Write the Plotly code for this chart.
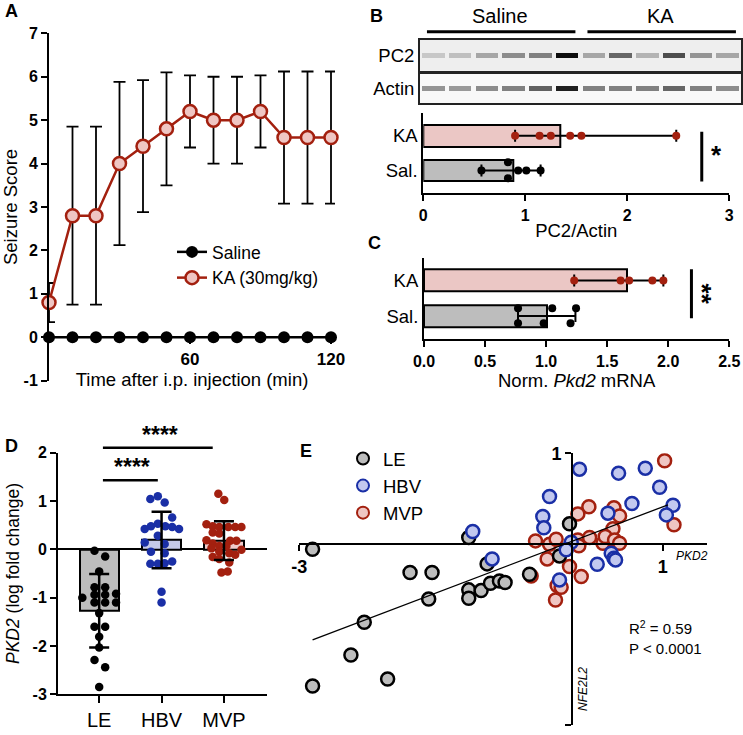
import plotly.graph_objects as go

W, H = 743, 735
FONT = "Arial, Liberation Sans, Helvetica, sans-serif"

# ============================================================
# DATA
# ============================================================
# A: seizure score after i.p. injection
TIME = [0, 10, 20, 30, 40, 50, 60, 70, 80, 90, 100, 110, 120]
SALINE_SCORE = [0, 0, 0, 0, 0, 0, 0, 0, 0, 0, 0, 0, 0]
KA_SCORE = [0.8, 2.8, 2.8, 4.0, 4.4, 4.8, 5.2, 5.0, 5.0, 5.2, 4.6, 4.6, 4.6]
KA_SD = [0.45, 2.05, 2.05, 1.88, 1.52, 1.3, 0.83, 1.0, 1.0, 0.83, 1.52, 1.52, 1.52]

# B: western blot (band darkness per lane, 0 = white, 1 = black)
LANES = [1, 2, 3, 4, 5, 6, 7, 8, 9, 10, 11, 12]
PC2_BAND = [0.22, 0.25, 0.35, 0.45, 0.5, 0.95, 0.35, 0.6, 0.3, 0.7, 0.42, 0.35]
ACTIN_BAND = [0.42, 0.4, 0.45, 0.5, 0.62, 0.88, 0.5, 0.5, 0.5, 0.6, 0.5, 0.45]
BLOT_GROUPS = ["Saline", "KA"]

# B: PC2/Actin quantification
ROWS = ["Sal.", "KA"]
PC2_MEAN = [0.88, 1.34]
PC2_LOW = [0.57, 0.90]
PC2_HIGH = [1.15, 2.48]
PC2_SAL_PTS = [0.57, 0.83, 0.83, 0.93, 1.01, 1.15]
PC2_SAL_OFF = [0, 0.24, -0.22, 0, 0, 0]
PC2_KA_PTS = [0.90, 1.14, 1.25, 1.44, 1.55, 2.48]

# C: Pkd2 mRNA
PKD2_MEAN = [1.005, 1.665]
PKD2_LOW = [0.77, 1.23]
PKD2_HIGH = [1.24, 1.96]
PKD2_SAL_PTS = [0.77, 0.77, 0.98, 1.05, 1.2, 1.245]
PKD2_SAL_OFF = [0.22, -0.2, -0.2, 0.22, -0.2, 0.22]
PKD2_KA_PTS = [1.23, 1.61, 1.68, 1.87, 1.96]

# D: PKD2 log fold change in human tissue
D_GROUPS = ["LE", "HBV", "MVP"]
D_MEAN = [-1.27, 0.195, 0.18]
D_SD = [0.76, 0.585, 0.40]
LE_D_Y = [-0.03, -0.15, -0.46, -0.785, -0.785, -1.0, -0.94, -0.94, -0.92, -1.1, -1.1, -1.1,
          -1.32, -1.6, -1.6, -1.81, -2.03, -2.29, -2.44, -2.85]
LE_D_DX = [-0.075, 0.096, 0, -0.075, 0.096, -0.27, -0.075, 0.096, 0.27, -0.075, 0.096, 0.27,
           0, -0.075, 0.096, 0, 0, -0.075, 0.096, 0]
HBV_D_Y = [1.04, 1.1, 0.97, 0.66, 0.48, 0.53, 0.48, 0.46, 0.42, 0.42, 0.28, 0.11, 0.14,
           -0.05, -0.08, -0.30, -0.30, -0.29, -0.25, -0.88, -1.1]
HBV_D_DX = [-0.18, -0.06, 0.05, 0.17, -0.17, -0.06, 0.06, 0.17, 0.28, -0.27, -0.06, 0.05, -0.27,
            -0.17, 0.05, -0.18, -0.06, 0.05, 0.17, 0, 0]
MVP_D_Y = [1.15, 1.02, 0.52, 0.48, 0.46, 0.46, 0.46, 0.46, 0.35, 0.33, 0.19, 0.12, 0.18, 0.18,
           0.07, 0.07, 0.02, -0.01, -0.05, -0.08, -0.11, -0.16, -0.2, -0.27, -0.48, -0.46]
MVP_D_DX = [-0.09, 0.005, -0.28, -0.18, -0.075, 0.07, 0.18, 0.28, -0.18, -0.075, -0.28, -0.18,
            0.1, 0.2, -0.075, 0.04, -0.2, 0.28, -0.075, 0.085, 0.18, -0.18, -0.075, 0.085, -0.04, 0.06]

# E: PKD2 vs NFE2L2
LE_E_X = [-2.854, -1.135, -0.933, -1.781, -1.539, -1.576, -1.135, -1.135, -0.999, -0.896,
          -0.797, -0.735, -0.466, -2.285, -2.432, -2.028, -2.854, -0.026, -0.136]
LE_E_Y = [-0.059, 0.07, -0.221, -0.317, -0.317, -0.608, -0.508, -0.6, -0.516, -0.435,
          -0.409, -0.427, -0.335, -0.866, -1.227, -1.492, -1.569, 0.221, -0.133]
HBV_E_X = [0.084, 0.514, 0.808, 0.966, 1.113, 1.04, -0.246, 0.661, 0.397, -0.32, -0.309,
           -1.091, -0.878, -0.007, -0.062, 0.279, 0.433, 0.463, 0.481, -0.136]
HBV_E_Y = [0.825, 0.781, 0.836, 0.626, 0.427, 0.32, 0.523, 0.446, 0.339, 0.302, 0.177,
           0.136, -0.166, 0.018, -0.066, -0.225, -0.103, -0.158, -0.177, -0.398]
MVP_E_X = [1.021, 1.124, 0.187, 0.066, 0.463, 0.525, 0.452, -0.4, -0.246, -0.173, 0.066,
           0.077, 0.195, 0.342, 0.367, 0.47, 0.525, -0.272, -0.026, 0.103, -0.448, -0.162,
           -0.118, -0.18]
MVP_E_Y = [0.917, 0.21, 0.409, 0.331, 0.398, 0.309, 0.166, 0.033, -0.004, 0.052, 0.044,
           -0.022, 0.07, 0.007, 0.081, 0.044, 0.007, -0.166, -0.25, -0.361, -0.354, -0.46,
           -0.479, -0.619]
FIT_X = [-2.854, 1.058]
FIT_SLOPE = 0.381
FIT_INTERCEPT = 0.028


# ============================================================
# HELPERS (pixel -> paper, for layout placement)
# ============================================================
def fx(p):
    return p / W


def fy(p):
    return 1 - p / H


def data_to_paper(v, dom, rng):
    return dom[0] + (v - rng[0]) / (rng[1] - rng[0]) * (dom[1] - dom[0])


def hyphen(vals):
    # tick labels with a plain hyphen like the original figure
    return [str(v) for v in vals]


BLACK = "#000000"
RED = "#a3200f"
PINK = "#efc6c3"
BLUE = "#1a2fa6"
LBLUE = "#c2c8ef"
GRAY = "#bdbdbd"

fig = go.Figure()

# ============================================================
# A
# ============================================================
fig.add_trace(go.Scatter(
    x=TIME, y=KA_SCORE, name="KA (30mg/kg)", mode="lines+markers",
    line=dict(color=RED, width=2.5),
    marker=dict(size=13, color=PINK, line=dict(color=RED, width=2.5)),
    error_y=dict(type="data", array=KA_SD, color=BLACK, thickness=1.8, width=6),
    cliponaxis=False, xaxis="x", yaxis="y", legend="legend", legendrank=2,
))
fig.add_trace(go.Scatter(
    x=TIME, y=SALINE_SCORE, name="Saline", mode="lines+markers",
    line=dict(color=BLACK, width=2.5),
    marker=dict(size=12, color=BLACK),
    cliponaxis=False, xaxis="x", yaxis="y", legend="legend", legendrank=1,
))

# ============================================================
# B: blot
# ============================================================
for band, ax in [(PC2_BAND, "3"), (ACTIN_BAND, "4")]:
    fig.add_trace(go.Bar(
        x=LANES, y=[0.17] * len(LANES), base=0.41, width=0.84,
        marker=dict(color=band, colorscale=[[0, "#ffffff"], [1, "#000000"]], cmin=0, cmax=1,
                    line=dict(width=0)),
        xaxis="x" + ax, yaxis="y" + ax, showlegend=False, hoverinfo="skip",
    ))

# B: bars
fig.add_trace(go.Bar(
    orientation="h", y=[0, 1], x=PC2_MEAN, width=0.62,
    marker=dict(color=[GRAY, "#ebc7c5"], line=dict(color=BLACK, width=2)),
    error_x=dict(type="data", symmetric=False,
                 array=[h - m for h, m in zip(PC2_HIGH, PC2_MEAN)],
                 arrayminus=[m - l for m, l in zip(PC2_MEAN, PC2_LOW)],
                 color=BLACK, thickness=2, width=6),
    xaxis="x5", yaxis="y5", showlegend=False,
))
fig.add_trace(go.Scatter(
    x=PC2_SAL_PTS, y=[0 + o for o in PC2_SAL_OFF], mode="markers",
    marker=dict(size=8, color=BLACK), xaxis="x5", yaxis="y5", showlegend=False,
))
fig.add_trace(go.Scatter(
    x=PC2_KA_PTS, y=[1] * len(PC2_KA_PTS), mode="markers",
    marker=dict(size=8, color=RED), xaxis="x5", yaxis="y5", showlegend=False,
    cliponaxis=False,
))

# C: bars
fig.add_trace(go.Bar(
    orientation="h", y=[0, 1], x=PKD2_MEAN, width=0.62,
    marker=dict(color=[GRAY, "#ebc7c5"], line=dict(color=BLACK, width=2)),
    error_x=dict(type="data", symmetric=False,
                 array=[h - m for h, m in zip(PKD2_HIGH, PKD2_MEAN)],
                 arrayminus=[m - l for m, l in zip(PKD2_MEAN, PKD2_LOW)],
                 color=BLACK, thickness=2, width=6),
    xaxis="x6", yaxis="y6", showlegend=False,
))
fig.add_trace(go.Scatter(
    x=PKD2_SAL_PTS, y=[0 + o for o in PKD2_SAL_OFF], mode="markers",
    marker=dict(size=8, color=BLACK), xaxis="x6", yaxis="y6", showlegend=False,
))
fig.add_trace(go.Scatter(
    x=PKD2_KA_PTS, y=[1] * len(PKD2_KA_PTS), mode="markers",
    marker=dict(size=8, color=RED), xaxis="x6", yaxis="y6", showlegend=False,
))

# ============================================================
# D
# ============================================================
fig.add_trace(go.Bar(
    x=[0, 1, 2], y=D_MEAN, width=0.63,
    marker=dict(color=[GRAY, "#c6cae8", "#efcaca"], line=dict(color=BLACK, width=2)),
    xaxis="x7", yaxis="y7", showlegend=False,
))
for i, (ys, dxs, col) in enumerate([(LE_D_Y, LE_D_DX, BLACK), (HBV_D_Y, HBV_D_DX, BLUE),
                                     (MVP_D_Y, MVP_D_DX, RED)]):
    fig.add_trace(go.Scatter(
        x=[i + d for d in dxs], y=ys, mode="markers",
        marker=dict(size=8.5, color=col), xaxis="x7", yaxis="y7", showlegend=False,
    ))
fig.add_trace(go.Scatter(
    x=[0, 1, 2], y=D_MEAN, mode="markers", marker=dict(size=1, color="rgba(0,0,0,0)"),
    error_y=dict(type="data", array=D_SD, color=BLACK, thickness=2.5, width=10),
    xaxis="x7", yaxis="y7", showlegend=False,
))

# ============================================================
# E
# ============================================================
fig.add_trace(go.Scatter(
    x=MVP_E_X, y=MVP_E_Y, name="MVP", mode="markers",
    marker=dict(size=13, color=PINK, line=dict(color=RED, width=2.5)),
    xaxis="x8", yaxis="y8", legend="legend2", legendrank=3,
))
fig.add_trace(go.Scatter(
    x=LE_E_X, y=LE_E_Y, name="LE", mode="markers",
    marker=dict(size=13, color=GRAY, line=dict(color=BLACK, width=2.5)),
    xaxis="x8", yaxis="y8", legend="legend2", legendrank=1,
))
fig.add_trace(go.Scatter(
    x=HBV_E_X, y=HBV_E_Y, name="HBV", mode="markers",
    marker=dict(size=13, color=LBLUE, line=dict(color=BLUE, width=2.5)),
    xaxis="x8", yaxis="y8", legend="legend2", legendrank=2,
))
fig.add_trace(go.Scatter(
    x=FIT_X, y=[FIT_SLOPE * x + FIT_INTERCEPT for x in FIT_X], mode="lines",
    line=dict(color=BLACK, width=1.3), xaxis="x8", yaxis="y8", showlegend=False,
))

# ============================================================
# LAYOUT
# ============================================================
axline = dict(showline=True, linecolor=BLACK, linewidth=2, showgrid=False, zeroline=False,
              automargin=False)
boxline = dict(showline=True, linecolor="#222222", linewidth=2, showgrid=False, zeroline=False,
               automargin=False, mirror=True, ticks="")
tickstyle = dict(ticks="outside", ticklen=6, tickwidth=2, tickcolor=BLACK)
bold16 = dict(size=16, weight="bold", color=BLACK)
TITLE = 18.5

A_YDOM = [fy(380.7), fy(33.3)]
D_YDOM = [fy(694.3), fy(452.7)]
D_YRNG = [-3, 2]
A_YTICKS = [-1, 0, 1, 2, 3, 4, 5, 6, 7]
D_YTICKS = [-3, -2, -1, 0, 1, 2]

fig.update_layout(
    template="none",
    width=W, height=H, margin=dict(l=0, r=0, t=0, b=0, autoexpand=False),
    paper_bgcolor="white", plot_bgcolor="white",
    font=dict(family=FONT, color=BLACK, size=15),
    barmode="overlay", bargap=0, hovermode=False,
    # A
    xaxis=dict(domain=[fx(49), fx(335)], range=[0, 121.7], anchor="free", position=fy(337.3),
               tickvals=[60, 120], tickfont=dict(size=17, weight="bold"),
               title=dict(text="Time after i.p. injection (min)", font=dict(size=TITLE),
                          standoff=4), **tickstyle, **axline),
    yaxis=dict(domain=A_YDOM, range=[-1, 7], anchor="x", tickvals=A_YTICKS,
               ticktext=hyphen(A_YTICKS), tickfont=bold16,
               title=dict(text="Seizure Score", font=dict(size=TITLE), standoff=8),
               **tickstyle, **axline),
    # B blot
    xaxis3=dict(domain=[fx(420), fx(741)], range=[0.5, 12.5], anchor="y3",
                showticklabels=False, **boxline),
    yaxis3=dict(domain=[fy(71), fy(40)], range=[0, 1], anchor="x3",
                tickvals=[0.5], ticktext=["PC2"], tickfont=dict(size=TITLE), **boxline),
    xaxis4=dict(domain=[fx(420), fx(741)], range=[0.5, 12.5], anchor="y4",
                showticklabels=False, **boxline),
    yaxis4=dict(domain=[fy(103), fy(74)], range=[0, 1], anchor="x4",
                tickvals=[0.5], ticktext=["Actin"], tickfont=dict(size=TITLE), **boxline),
    # B quantification
    xaxis5=dict(domain=[fx(423.3), fx(729.3)], range=[0, 3], anchor="y5", tickvals=[0, 1, 2, 3],
                tickfont=bold16, title=dict(text="PC2/Actin", font=dict(size=TITLE), standoff=2),
                **tickstyle, **axline),
    yaxis5=dict(domain=[fy(193.3), fy(113)], range=[-0.65, 1.65], anchor="x5", tickvals=[0, 1],
                ticktext=ROWS, ticks="", tickfont=dict(size=TITLE), **axline),
    # C
    xaxis6=dict(domain=[fx(424), fx(729.3)], range=[0, 2.5], anchor="y6",
                tickvals=[0, 0.5, 1, 1.5, 2, 2.5], tickformat=".1f", tickfont=bold16,
                title=dict(text="Norm. <i>Pkd2</i> mRNA", font=dict(size=TITLE), standoff=6),
                **tickstyle, **axline),
    yaxis6=dict(domain=[fy(339.3), fy(258.3)], range=[-0.65, 1.62], anchor="x6", tickvals=[0, 1],
                ticktext=ROWS, ticks="", tickfont=dict(size=TITLE), **axline),
    # D
    xaxis7=dict(domain=[fx(58), fx(267)], range=[-0.66, 2.69], anchor="y7", tickvals=[0, 1, 2],
                ticktext=D_GROUPS, ticks="outside", ticklen=7, tickwidth=2, tickcolor=BLACK,
                tickfont=dict(size=20), **axline),
    yaxis7=dict(domain=D_YDOM, range=D_YRNG, anchor="x7", tickvals=D_YTICKS,
                ticktext=hyphen(D_YTICKS), tickfont=bold16,
                title=dict(text="<i>PKD2</i> (log fold change)", font=dict(size=17.5), standoff=8),
                showline=True, linecolor=BLACK, linewidth=2, showgrid=False, automargin=False,
                zeroline=True, zerolinecolor=BLACK, zerolinewidth=2, **tickstyle),
    # E
    xaxis8=dict(domain=[fx(299.3), fx(706.7)], range=[-3.0, 1.484], anchor="free",
                position=fy(543.9), tickvals=[-3, 1], ticktext=hyphen([-3, 1]),
                tickfont=dict(size=18, weight="bold"), **tickstyle, **axline),
    yaxis8=dict(domain=[fy(725), fy(453.3)], range=[-2, 1], anchor="free", position=fx(572),
                tickvals=[-2, 1], ticktext=hyphen([-2, 1]),
                tickfont=dict(size=18, weight="bold"), **tickstyle, **axline),
    legend=dict(x=fx(172), y=fy(234), xanchor="left", yanchor="top", font=dict(size=17.5),
                bgcolor="rgba(0,0,0,0)", tracegroupgap=0),
    legend2=dict(x=fx(343), y=fy(440), xanchor="left", yanchor="top", font=dict(size=18.5),
                 bgcolor="rgba(0,0,0,0)", itemsizing="constant", tracegroupgap=0),
)

# light membrane background behind the blots
fig.add_shape(type="rect", xref="x3 domain", yref="y3 domain", x0=0, x1=1, y0=0, y1=1,
              fillcolor="#eeeeee", line=dict(width=0), layer="below")
fig.add_shape(type="rect", xref="x4 domain", yref="y4 domain", x0=0, x1=1, y0=0, y1=1,
              fillcolor="#f8f8f8", line=dict(width=0), layer="below")

# header lines over blot lanes
for x0, x1 in [(0.76, 6.31), (6.76, 12.31)]:
    fig.add_shape(type="line", xref="x3", yref="paper", x0=x0, x1=x1, y0=fy(31.7), y1=fy(31.7),
                  line=dict(color=BLACK, width=3))

# significance bars
fig.add_shape(type="line", xref="x5", yref="y5", x0=2.73, x1=2.73, y0=-0.31, y1=1.11,
              line=dict(color=BLACK, width=3))
fig.add_shape(type="line", xref="x6", yref="y6", x0=2.19, x1=2.19, y0=-0.06, y1=1.31,
              line=dict(color=BLACK, width=3))
for x0, x1, yv in [(0.06, 0.94, 1.43), (0.06, 1.82, 2.1)]:
    yp = data_to_paper(yv, D_YDOM, D_YRNG)
    fig.add_shape(type="line", xref="x7", yref="paper", x0=x0, x1=x1, y0=yp, y1=yp,
                  line=dict(color=BLACK, width=2.5))

annotations = [
    dict(text="<b>A</b>", x=fx(3), y=fy(11)),
    dict(text="<b>B</b>", x=fx(368), y=fy(16)),
    dict(text="<b>C</b>", x=fx(366), y=fy(243)),
    dict(text="<b>D</b>", x=fx(3), y=fy(446)),
    dict(text="<b>E</b>", x=fx(298), y=fy(451)),
]
for a in annotations:
    fig.add_annotation(text=a["text"], x=a["x"], y=a["y"], xref="paper", yref="paper",
                       xanchor="left", yanchor="middle", showarrow=False,
                       font=dict(size=18, family=FONT))

for i, g in enumerate(BLOT_GROUPS):
    fig.add_annotation(text=g, x=3.5 + 6 * i, y=fy(16), xref="x3", yref="paper",
                       yanchor="middle", showarrow=False, font=dict(size=20))

fig.add_annotation(text="<b>*</b>", x=2.87, y=0.45, xref="x5", yref="y5", showarrow=False,
                   font=dict(size=26))
fig.add_annotation(text="<b>**</b>", x=2.28, y=0.62, xref="x6", yref="y6", showarrow=False,
                   textangle=90, font=dict(size=26))
for xs, yv in [(0.53, 1.71), (0.98, 2.37)]:
    fig.add_annotation(text="<b>****</b>", x=xs, y=data_to_paper(yv, D_YDOM, D_YRNG),
                       xref="x7", yref="paper", yanchor="middle", showarrow=False,
                       font=dict(size=23))

fig.add_annotation(text="<i>PKD2</i>", x=1.327, y=-0.134, xref="x8", yref="y8",
                   showarrow=False, font=dict(size=12))
fig.add_annotation(text="<i>NFE2L2</i>", x=0.125, y=-1.6, xref="x8", yref="y8",
                   showarrow=False, textangle=-90, font=dict(size=12))
fig.add_annotation(text="R<sup>2</sup> = 0.59<br>P &lt; 0.0001", x=0.606, y=-1.03,
                   xref="x8", yref="y8", xanchor="left", align="left", showarrow=False,
                   font=dict(size=15))

# the page's default body margin would shift the figure by 8 px
fig.write_html("out.html", config={"displayModeBar": False},
               post_script="document.body.style.margin='0px';")
